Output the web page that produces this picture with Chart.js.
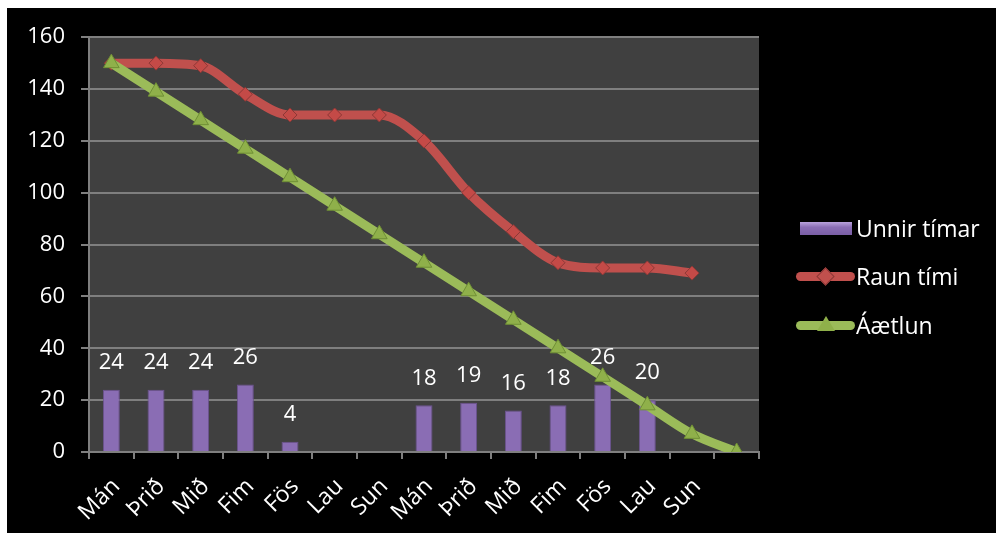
<!DOCTYPE html>
<html>
<head>
<meta charset="utf-8">
<script src="https://cdn.jsdelivr.net/npm/chart.js@4/dist/chart.umd.min.js"></script>
<style>
  body { margin: 0; background: #fff; width: 996px; height: 538px; overflow: hidden; font-family: 'Open Sans', sans-serif; }
  #wrap { position: absolute; left: 7px; top: 8px; width: 989px; height: 525px; background: #000; }
  #chart { position: absolute; left: 0; top: 0; }
  .item { position: absolute; left: 786px; height: 30px; display: flex; align-items: center; color: #fff; font-size: 23px; }
  .sym { position: relative; width: 63px; height: 30px; }
  .bar { position: absolute; left: 7px; top: 9px; width: 52px; height: 13px; background: linear-gradient(#b9a2dc, #8a6db4 40%, #7a5ea5); }
  .line { position: absolute; left: 3px; top: 11px; width: 59px; height: 9px; border-radius: 5px; }
  .dia { position: absolute; left: 26px; top: 9px; width: 11px; height: 11px; transform: rotate(45deg); background: #c0504d; border: 1px solid #8c3836; }
  .tri { position: absolute; left: 24px; top: 6px; width: 0; height: 0; border-left: 9px solid transparent; border-right: 9px solid transparent; border-bottom: 15px solid #8fb04a; }
</style>
</head>
<body>
<div id="wrap">
  <canvas id="chart" width="989" height="525"></canvas>
  <div class="item" style="top:205px"><div class="sym"><div class="bar"></div></div><span>Unnir tímar</span></div>
  <div class="item" style="top:253px"><div class="sym"><div class="line" style="background:#c0504d"></div><div class="dia"></div></div><span>Raun tími</span></div>
  <div class="item" style="top:302px"><div class="sym"><div class="line" style="background:#9bbb59"></div><div class="tri"></div></div><span>Áætlun</span></div>
</div>
<script>
// Chart data
const days = ['Mán', 'Þrið', 'Mið', 'Fim', 'Fös', 'Lau', 'Sun', 'Mán', 'Þrið', 'Mið', 'Fim', 'Fös', 'Lau', 'Sun', ''];
const unnirTimar = [24, 24, 24, 26, 4, null, null, 18, 19, 16, 18, 26, 20, null, null];
const raunTimi = [150, 150, 149, 138, 130, 130, 130, 120, 100, 85, 73, 71, 71, 69, null];
const aaetlun = [150, 139, 128, 117, 106, 95, 84, 73, 62, 51, 40, 29, 18, 7, 0];

const FONT = { family: "'Open Sans', sans-serif", size: 22 };

// Dark grey plot area
const plotBg = {
  id: 'plotBg',
  beforeDraw(chart) {
    const { ctx, chartArea: a } = chart;
    ctx.save();
    ctx.fillStyle = '#404040';
    ctx.fillRect(a.left, a.top, a.right - a.left, a.bottom - a.top);
    ctx.restore();
  },
};

// Value labels above the bars
const barLabels = {
  id: 'barLabels',
  afterDatasetsDraw(chart) {
    const ctx = chart.ctx;
    const meta = chart.getDatasetMeta(0);
    ctx.save();
    ctx.font = "22px 'Open Sans', sans-serif";
    ctx.fillStyle = '#fff';
    ctx.textAlign = 'center';
    ctx.textBaseline = 'middle';
    meta.data.forEach((bar, i) => {
      const v = unnirTimar[i];
      if (v == null) return;
      ctx.fillText(String(v), bar.x, bar.y - 27);
    });
    ctx.restore();
  },
};

new Chart(document.getElementById('chart'), {
  data: {
    labels: days,
    datasets: [
      {
        type: 'bar',
        label: 'Unnir tímar',
        data: unnirTimar,
        backgroundColor: '#8a6db4',
        borderColor: '#6b5290',
        borderWidth: 1,
        barPercentage: 0.76,
        categoryPercentage: 0.5,
        order: 3,
      },
      {
        type: 'line',
        label: 'Raun tími',
        data: raunTimi,
        borderColor: '#c0504d',
        borderWidth: 9,
        cubicInterpolationMode: 'monotone',
        pointStyle: 'rectRot',
        pointRadius: 7,
        pointBackgroundColor: '#c44a47',
        pointBorderColor: '#8c3836',
        pointBorderWidth: 1,
        order: 2,
      },
      {
        type: 'line',
        label: 'Áætlun',
        data: aaetlun,
        borderColor: '#9bbb59',
        borderWidth: 9,
        cubicInterpolationMode: 'monotone',
        pointStyle: 'triangle',
        pointRadius: 9,
        pointBackgroundColor: '#8fb04a',
        pointBorderColor: '#6f8f35',
        pointBorderWidth: 1,
        order: 1,
      },
    ],
  },
  options: {
    responsive: false,
    animation: false,
    layout: { padding: { top: 29, right: 237, left: 0, bottom: 0 } },
    plugins: {
      legend: { display: false },
      tooltip: { enabled: false },
    },
    scales: {
      x: {
        afterFit(s) { s.height = 81; },
        grid: { drawOnChartArea: false, tickLength: 7, color: '#7f7f7f', lineWidth: 2 },
        border: { color: '#7f7f7f', width: 2 },
        ticks: {
          color: '#fff',
          font: { family: "'Open Sans', sans-serif", size: 23 },
          maxRotation: 45,
          minRotation: 45,
          autoSkip: false,
          padding: 14,
          labelOffset: 5,
        },
      },
      y: {
        min: 0,
        max: 160,
        afterFit(s) { s.width = 82; },
        grid: { color: '#7f7f7f', lineWidth: 2, tickLength: 8 },
        border: { color: '#7f7f7f', width: 2 },
        ticks: { color: '#fff', font: FONT, stepSize: 20, padding: 16 },
      },
    },
  },
  plugins: [plotBg, barLabels],
});
</script>
</body>
</html>
